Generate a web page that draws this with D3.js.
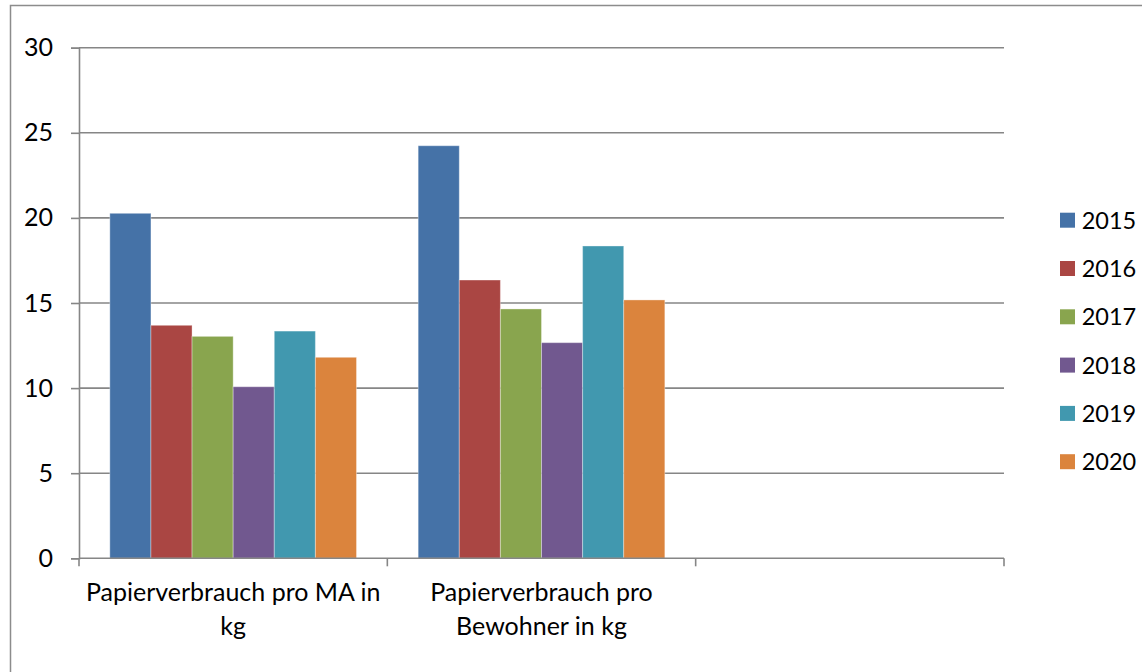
<!DOCTYPE html>
<html>
<head>
<meta charset="utf-8">
<script src="https://cdn.jsdelivr.net/npm/d3@7"></script>
<style>
  html, body { margin: 0; padding: 0; background: #fff; }
  svg { display: block; }
  text { font-family: Lato, "Open Sans", sans-serif; fill: #000; }
</style>
</head>
<body>
<svg id="chart" width="1142" height="672"></svg>
<script>
// Paper consumption per employee (MA) and per resident, by year
const categories = ["Papierverbrauch pro MA in kg", "Papierverbrauch pro Bewohner in kg", ""];
const years = ["2015", "2016", "2017", "2018", "2019", "2020"];
const valuesPerMA       = [20.27, 13.69, 13.04, 10.08, 13.35, 11.81];
const valuesPerBewohner = [24.24, 16.35, 14.65, 12.67, 18.35, 15.18];
const yTicks = [0, 5, 10, 15, 20, 25, 30];
const colors = ["#4572A7", "#AA4643", "#89A54E", "#71588F", "#4198AF", "#DB843D"];

// Category labels are wrapped onto two lines
const categoryLines = [
  ["Papierverbrauch pro MA in", "kg"],
  ["Papierverbrauch pro", "Bewohner in kg"],
  []
];

const seriesByCategory = [valuesPerMA, valuesPerBewohner, []];

const svg = d3.select("#chart");
const plot = { left: 79, right: 1004, top: 47.7, bottom: 558.3 };
const fontSize = 25;

// outer chart frame
svg.append("rect")
  .attr("x", 10.5).attr("y", 5.5)
  .attr("width", 1140).attr("height", 700)
  .attr("fill", "none").attr("stroke", "#8c8c8c").attr("stroke-width", 1.5);

const x0 = d3.scaleBand().domain(d3.range(categories.length))
  .range([plot.left, plot.right]).padding(0);
const x1 = d3.scaleBand().domain(years)
  .range([0, x0.bandwidth()]).paddingInner(0).paddingOuter(0.75);
const y = d3.scaleLinear().domain([0, 30]).range([plot.bottom, plot.top]);
const color = d3.scaleOrdinal().domain(years).range(colors);

// horizontal gridlines
svg.append("g").selectAll("line")
  .data(yTicks.filter(t => t > 0))
  .join("line")
  .attr("x1", plot.left).attr("x2", plot.right)
  .attr("y1", d => y(d)).attr("y2", d => y(d))
  .attr("stroke", "#868686").attr("stroke-width", 1.6);

// bars
const groups = svg.append("g").selectAll("g")
  .data(seriesByCategory)
  .join("g")
  .attr("transform", (d, i) => `translate(${x0(i)},0)`);

groups.selectAll("rect")
  .data(d => d.map((v, j) => ({ year: years[j], value: v })))
  .join("rect")
  .attr("x", d => x1(d.year))
  .attr("width", x1.bandwidth())
  .attr("y", d => y(d.value))
  .attr("height", d => y(0) - y(d.value))
  .attr("fill", d => color(d.year))
  .attr("stroke", "rgba(255,255,255,0.35)")
  .attr("stroke-width", 1);

// y axis
const yAxis = d3.axisLeft(y).tickValues(yTicks).tickSize(8).tickPadding(18)
  .tickFormat(d3.format("d"));
const gy = svg.append("g").attr("transform", `translate(${plot.left},0)`).call(yAxis);
gy.select(".domain").attr("stroke", "#868686").attr("stroke-width", 1.6);
gy.selectAll(".tick line").attr("stroke", "#868686").attr("stroke-width", 1.6);
gy.selectAll(".tick text")
  .attr("font-family", "Lato, sans-serif")
  .attr("font-size", fontSize).attr("fill", "#000");

// x axis: ticks at band boundaries
const boundaries = d3.range(categories.length + 1).map(i =>
  i < categories.length ? x0(i) : x0(categories.length - 1) + x0.bandwidth());
svg.append("line")
  .attr("x1", plot.left).attr("x2", plot.right)
  .attr("y1", y(0)).attr("y2", y(0))
  .attr("stroke", "#868686").attr("stroke-width", 1.6);
svg.append("g").selectAll("line")
  .data(boundaries)
  .join("line")
  .attr("x1", d => d).attr("x2", d => d)
  .attr("y1", y(0)).attr("y2", y(0) + 8)
  .attr("stroke", "#868686").attr("stroke-width", 1.6);

// category labels
const catLabels = svg.append("g").selectAll("text")
  .data(categoryLines)
  .join("text")
  .attr("text-anchor", "middle")
  .attr("font-size", fontSize)
  .attr("x", (d, i) => x0(i) + x0.bandwidth() / 2)
  .attr("y", 600.5);
catLabels.selectAll("tspan")
  .data(d => d)
  .join("tspan")
  .attr("x", function () { return d3.select(this.parentNode).attr("x"); })
  .attr("dy", (d, i) => i === 0 ? 0 : 34.5)
  .text(d => d);

// legend
const legend = svg.append("g").attr("transform", "translate(1060,212.7)");
const item = legend.selectAll("g")
  .data(years)
  .join("g")
  .attr("transform", (d, i) => `translate(0,${i * 48.3})`);
item.append("rect")
  .attr("width", 15).attr("height", 15)
  .attr("fill", d => color(d));
item.append("text")
  .attr("x", 21.7).attr("y", 7.5)
  .attr("dy", "0.36em")
  .attr("font-size", 23.5)
  .text(d => d);
</script>
</body>
</html>
